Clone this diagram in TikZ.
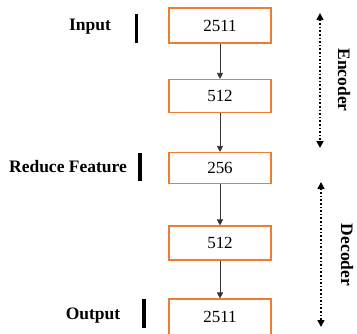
\documentclass[tikz,border=0pt]{standalone}
\usepackage{fontspec}
\setmainfont{Liberation Serif}
\usetikzlibrary{arrows.meta}
\definecolor{boxorange}{RGB}{237,125,49}
\begin{document}
\begin{tikzpicture}[x=1pt,y=-1pt,
  layer/.style={draw=boxorange, line width=1.1pt, fill=white, minimum width=102pt,
    inner sep=0pt, font=\fontsize{17}{20}\selectfont},
  flow/.style={draw=black!80, line width=0.7pt, -{Triangle[length=6pt,width=6pt]}},
  tag/.style={font=\fontsize{17.5}{20}\selectfont\bfseries, inner sep=0pt},
  bar/.style={fill=black, inner sep=0pt, minimum width=3.2pt},
  span/.style={line width=1.6pt, dotted, {Triangle[length=7pt,width=7pt]}-{Triangle[length=7pt,width=7pt]}},
  side/.style={font=\fontsize{17.5}{20}\selectfont\bfseries, rotate=-90, inner sep=0pt}]
\useasboundingbox (0,0) rectangle (357,333);

% layer boxes
\node[layer, minimum height=35pt] (l1) at (220,25.5) {2511};
\node[layer, minimum height=33pt] (l2) at (220,96) {512};
\node[layer, minimum height=31pt] (l3) at (220,168) {256};
\node[layer, minimum height=34pt] (l4) at (220,243) {512};
\node[layer, minimum height=36pt] (l5) at (220,317) {2511};

% connections between layers
\draw[flow] (l1) -- (l2);
\draw[flow] (l2) -- (l3);
\draw[flow] (l3) -- (l4);
\draw[flow] (l4) -- (l5);

% stage labels with bars
\node[tag] (tin) at (90,27) {Input};
\node[bar, minimum height=29pt] (bin) at (136.5,28.5) {};
\node[tag] (tred) at (68,167) {Reduce Feature};
\node[bar, minimum height=28pt] (bred) at (140,167) {};
\node[tag] (tout) at (93,316) {Output};
\node[bar, minimum height=29pt] (bout) at (144,313.5) {};

% encoder / decoder spans
\coordinate (e1) at (320,13);
\coordinate (e2) at (320,148);
\draw[span] (e1) -- (e2);
\node[side] (enc) at (344,80) {Encoder};
\coordinate (d1) at (321,182);
\coordinate (d2) at (321,327);
\draw[span] (d1) -- (d2);
\node[side] (dec) at (347,255) {Decoder};
\end{tikzpicture}
\end{document}
